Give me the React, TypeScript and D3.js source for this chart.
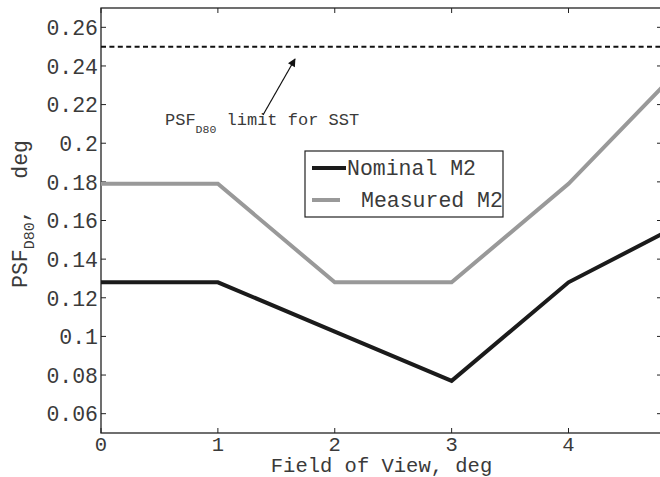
import React, { useEffect, useRef } from 'react';
import * as d3 from 'd3';

const fov = [0, 1, 2, 3, 4, 4.8];
const nominal = [0.128, 0.128, 0.1025, 0.077, 0.128, 0.153];
const measured = [0.179, 0.179, 0.128, 0.128, 0.179, 0.229];
const xTicks = [0, 1, 2, 3, 4];
const yTicks = [0.06, 0.08, 0.1, 0.12, 0.14, 0.16, 0.18, 0.2, 0.22, 0.24, 0.26];
const sstLimit = 0.25;
const seriesNames = ['Nominal M2', 'Measured M2'];

const width = 660;
const height = 477;
const margin = { top: 8, right: -2, bottom: 44, left: 101 };
const font = '"Liberation Mono", "DejaVu Sans Mono", monospace';
const fs = 21.5;
const txt = '#3a3a3a';

function App() {
  const ref = useRef<SVGSVGElement>(null);

  useEffect(() => {
    const svg = d3.select(ref.current);
    svg.selectAll('*').remove();

    const x = d3.scaleLinear().domain([0, 4.8]).range([margin.left, width - margin.right]);
    const y = d3.scaleLinear().domain([0.05, 0.27]).range([height - margin.bottom, margin.top]);
    const x0 = x(0), x1 = x(4.8), y0 = y(0.05), y1 = y(0.27);
    const ink = '#222';

    // frame
    svg.append('rect')
      .attr('x', x0).attr('y', y1)
      .attr('width', x1 - x0).attr('height', y0 - y1)
      .attr('fill', 'none').attr('stroke', ink).attr('stroke-width', 1.3);

    // ticks on all four sides, pointing in
    const tl = 5;
    xTicks.forEach(t => {
      svg.append('line').attr('x1', x(t)).attr('x2', x(t)).attr('y1', y0).attr('y2', y0 - tl)
        .attr('stroke', ink);
      svg.append('line').attr('x1', x(t)).attr('x2', x(t)).attr('y1', y1).attr('y2', y1 + tl)
        .attr('stroke', ink);
      svg.append('text').attr('x', x(t)).attr('y', y0 + 18)
        .attr('text-anchor', 'middle').attr('font-family', font).attr('font-size', 20.5)
        .attr('fill', txt).text(t);
    });
    yTicks.forEach(t => {
      svg.append('line').attr('x1', x0).attr('x2', x0 + tl).attr('y1', y(t)).attr('y2', y(t))
        .attr('stroke', ink);
      svg.append('line').attr('x1', x1).attr('x2', x1 - tl).attr('y1', y(t)).attr('y2', y(t))
        .attr('stroke', ink);
      svg.append('text').attr('x', x0 - 3).attr('y', y(t)).attr('dy', '0.36em')
        .attr('text-anchor', 'end').attr('font-family', font).attr('font-size', fs)
        .attr('fill', txt).text(String(+t.toFixed(2)));
    });

    // SST limit
    svg.append('line')
      .attr('x1', x0).attr('x2', x1).attr('y1', y(sstLimit)).attr('y2', y(sstLimit))
      .attr('stroke', '#111').attr('stroke-width', 2).attr('stroke-dasharray', '5,3.4');

    const line = d3.line<number>().x((d, i) => x(fov[i])).y(d => y(d));
    svg.append('path').datum(measured).attr('d', line)
      .attr('fill', 'none').attr('stroke', '#999').attr('stroke-width', 4);
    svg.append('path').datum(nominal).attr('d', line)
      .attr('fill', 'none').attr('stroke', '#1b1b1b').attr('stroke-width', 4);

    // annotation
    const ann = svg.append('text').attr('x', 165).attr('y', 125)
      .attr('font-family', font).attr('font-size', 17).attr('fill', txt);
    ann.append('tspan').text('PSF');
    ann.append('tspan').attr('dy', 8).attr('font-size', 11.5).text('D80');
    ann.append('tspan').attr('dy', -8).text(' limit for SST');

    svg.append('defs').append('marker')
      .attr('id', 'ah').attr('viewBox', '0 0 10 10').attr('refX', 9).attr('refY', 5)
      .attr('markerWidth', 10).attr('markerHeight', 8).attr('markerUnits', 'userSpaceOnUse')
      .attr('orient', 'auto')
      .append('path').attr('d', 'M0,0 L10,5 L0,10 Z').attr('fill', '#111');
    svg.append('line').attr('x1', 263).attr('y1', 115).attr('x2', 295).attr('y2', 59)
      .attr('stroke', '#111').attr('stroke-width', 1.2).attr('marker-end', 'url(#ah)');

    // legend
    const lg = svg.append('g');
    lg.append('rect').attr('x', 305).attr('y', 151).attr('width', 198).attr('height', 66)
      .attr('fill', 'white').attr('stroke', ink).attr('stroke-width', 1.2);
    lg.append('line').attr('x1', 312).attr('x2', 346).attr('y1', 168).attr('y2', 168)
      .attr('stroke', '#1b1b1b').attr('stroke-width', 4);
    lg.append('line').attr('x1', 312).attr('x2', 340).attr('y1', 200).attr('y2', 200)
      .attr('stroke', '#999').attr('stroke-width', 4);
    lg.append('text').attr('x', 347).attr('y', 175).attr('font-family', font).attr('font-size', fs)
      .attr('fill', txt).text(seriesNames[0]);
    lg.append('text').attr('x', 361).attr('y', 207).attr('font-family', font).attr('font-size', fs)
      .attr('fill', txt).text(seriesNames[1]);

    // axis labels
    svg.append('text').attr('x', (x0 + x1) / 2).attr('y', 472).attr('text-anchor', 'middle')
      .attr('font-family', font).attr('font-size', 20.5).attr('fill', txt)
      .text('Field of View, deg');
    const yl = svg.append('g').attr('transform', 'translate(27,0) rotate(-90)')
      .attr('font-family', font).attr('font-size', fs).attr('fill', txt);
    const ylt = yl.append('text').attr('x', -288);
    ylt.append('tspan').text('PSF');
    ylt.append('tspan').attr('dy', 7).attr('font-size', 15).text('D80');
    ylt.append('tspan').attr('dy', -7).text(',');
    yl.append('text').attr('x', -140).attr('text-anchor', 'end').text('deg');
  }, []);

  return (
    <svg ref={ref} width={width} height={height}
      style={{ position: 'absolute', left: 0, top: 0, background: 'white' }} />
  );
}

export default App;
